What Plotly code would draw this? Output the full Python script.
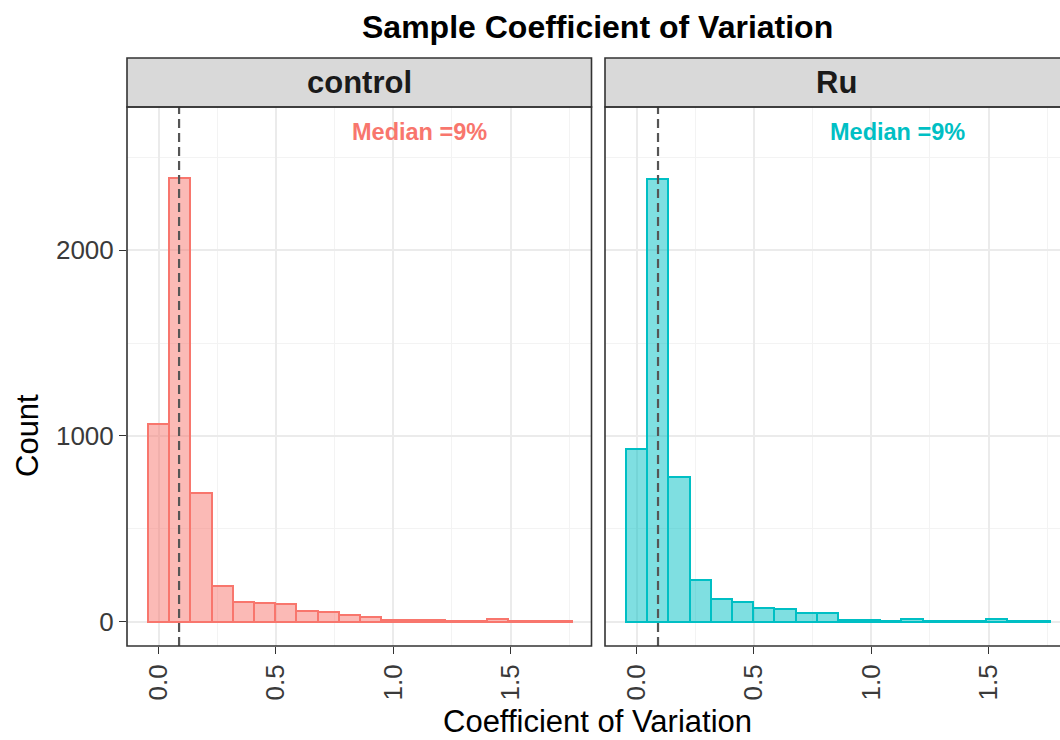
import plotly.graph_objects as go

# Histogram bins shared by both panels (centre of each bin, coefficient of variation)
BIN_WIDTH = 0.0903
bin_centers = [round(i * BIN_WIDTH, 4) for i in range(20)]

# Counts per bin for each group
control_counts = [1064, 2392, 692, 191, 105, 101, 94, 58, 50, 37,
                  23, 10, 10, 10, 3, 3, 11, 3, 3, 3]
ru_counts = [929, 2386, 781, 224, 119, 105, 75, 69, 44, 44,
             10, 10, 3, 11, 3, 3, 3, 12, 2, 2]

# Median coefficient of variation per group
control_median = 0.087
ru_median = 0.091

groups = ["control", "Ru"]
colors = ["#F8766D", "#00BFC4"]
fills = ["rgba(248,118,109,0.5)", "rgba(0,191,196,0.5)"]

FONT = "Liberation Sans, Arial, sans-serif"
W, H = 1060, 740
ML, MR, MT, MB = 127, 0, 107, 94
plot_w = W - ML - MR
plot_h = H - MT - MB

# Panel domains (paper fractions inside the margins)
left_dom = [0.0, 464.5 / plot_w]
right_dom = [(605 - ML) / plot_w, 1.0]
X0 = -0.135
px_per_unit = 464.5 / (1.845 - X0)
left_range = [X0, 1.845]
right_range = [X0, X0 + (W - 605) / px_per_unit]
y_range = [-132, 2772]

fig = go.Figure()

series = [control_counts, ru_counts]
medians = [control_median, ru_median]
for i, (name, counts) in enumerate(zip(groups, series)):
    xa = "x" if i == 0 else "x2"
    ya = "y" if i == 0 else "y2"
    fig.add_trace(go.Bar(
        x=bin_centers, y=counts, width=BIN_WIDTH,
        marker=dict(color=fills[i], line=dict(color=colors[i], width=2)),
        xaxis=xa, yaxis=ya, showlegend=False, name=name,
    ))

grid_major = "#EBEBEB"
grid_minor = "#F3F3F3"
tick_font = dict(family=FONT, size=26, color="#3A3A3A")

common_x = dict(
    tickmode="array", tickvals=[0.0, 0.5, 1.0, 1.5], ticktext=["0.0", "0.5", "1.0", "1.5"],
    tickangle=-90, ticks="outside", ticklen=7, tickwidth=1.3, tickcolor="#333333",
    tickfont=tick_font, showgrid=True, gridcolor=grid_major, gridwidth=1.6,
    minor=dict(tickmode="array", tickvals=[0.25, 0.75, 1.25, 1.75], showgrid=True,
               gridcolor=grid_minor, gridwidth=1, ticks=""),
    zeroline=False, showline=False, fixedrange=True,
)
common_y = dict(
    range=y_range, tickmode="array", tickvals=[0, 1000, 2000],
    showgrid=True, gridcolor=grid_major, gridwidth=1.6,
    minor=dict(tickmode="array", tickvals=[500, 1500, 2500], showgrid=True,
               gridcolor=grid_minor, gridwidth=1, ticks=""),
    zeroline=False, showline=False, fixedrange=True,
)

fig.update_layout(
    width=W, height=H,
    margin=dict(l=ML, r=MR, t=MT, b=MB, autoexpand=False),
    paper_bgcolor="white", plot_bgcolor="white",
    bargap=0, barmode="overlay",
    xaxis=dict(domain=left_dom, range=left_range, anchor="y", **common_x),
    xaxis2=dict(domain=right_dom, range=right_range, anchor="y2", **common_x),
    yaxis=dict(domain=[0, 1], anchor="x", ticks="outside", ticklen=7, tickwidth=1.3,
               tickcolor="#333333", tickfont=tick_font, **common_y),
    yaxis2=dict(domain=[0, 1], anchor="x2", matches="y", showticklabels=False,
                ticks="", **common_y),
)

shapes = []
annotations = []

# Median reference lines and labels
for i, med in enumerate(medians):
    xa = "x" if i == 0 else "x2"
    ya = "y" if i == 0 else "y2"
    shapes.append(dict(type="line", xref=xa, yref=f"{ya} domain", x0=med, x1=med, y0=0, y1=1,
                       line=dict(color="#555555", width=2.2, dash="9px,5px"), layer="above"))
    annotations.append(dict(xref=xa, yref=ya, x=1.11, y=2635, showarrow=False,
                            text=f"<b>Median ={round(med * 100)}%</b>",
                            font=dict(family=FONT, size=23.5, color=colors[i]),
                            xanchor="center", yanchor="middle"))

# Panel borders and facet strips
strip_top = 1 + (MT - 58) / plot_h
for i, name in enumerate(groups):
    xa = "x" if i == 0 else "x2"
    right_end = 1.0 if i == 0 else 1.05
    shapes.append(dict(type="rect", xref=f"{xa} domain", yref="paper",
                       x0=0, x1=right_end, y0=1, y1=strip_top,
                       fillcolor="#D9D9D9", line=dict(color="#333333", width=1.6),
                       layer="above"))
    shapes.append(dict(type="rect", xref=f"{xa} domain", yref="paper",
                       x0=0, x1=right_end, y0=0, y1=1,
                       fillcolor="rgba(0,0,0,0)", line=dict(color="#333333", width=1.6),
                       layer="above"))
    strip_center = 0.5 if i == 0 else 0.5 * (1067 - 605) / (W - 605)
    annotations.append(dict(xref=f"{xa} domain", yref="paper", x=strip_center,
                            y=(1 + strip_top) / 2, showarrow=False,
                            text=f"<b>{name}</b>",
                            font=dict(family=FONT, size=31, color="#1A1A1A"),
                            xanchor="center", yanchor="middle"))

# Title and axis titles
annotations.append(dict(xref="paper", yref="paper", x=(597.5 - ML) / plot_w,
                        y=1 + (MT - 27) / plot_h, showarrow=False,
                        text="<b>Sample Coefficient of Variation</b>",
                        font=dict(family=FONT, size=32, color="black"),
                        xanchor="center", yanchor="middle"))
annotations.append(dict(xref="paper", yref="paper", x=(597.5 - ML) / plot_w,
                        y=-(721 - (H - MB)) / plot_h, showarrow=False,
                        text="Coefficient of Variation",
                        font=dict(family=FONT, size=31, color="black"),
                        xanchor="center", yanchor="middle"))
annotations.append(dict(xref="paper", yref="paper", x=-(ML - 27) / plot_w,
                        y=(H - MB - 436) / plot_h, showarrow=False, textangle=-90,
                        text="Count",
                        font=dict(family=FONT, size=31, color="black"),
                        xanchor="center", yanchor="middle"))

fig.update_layout(shapes=shapes, annotations=annotations)

fig.write_html("out.html")
